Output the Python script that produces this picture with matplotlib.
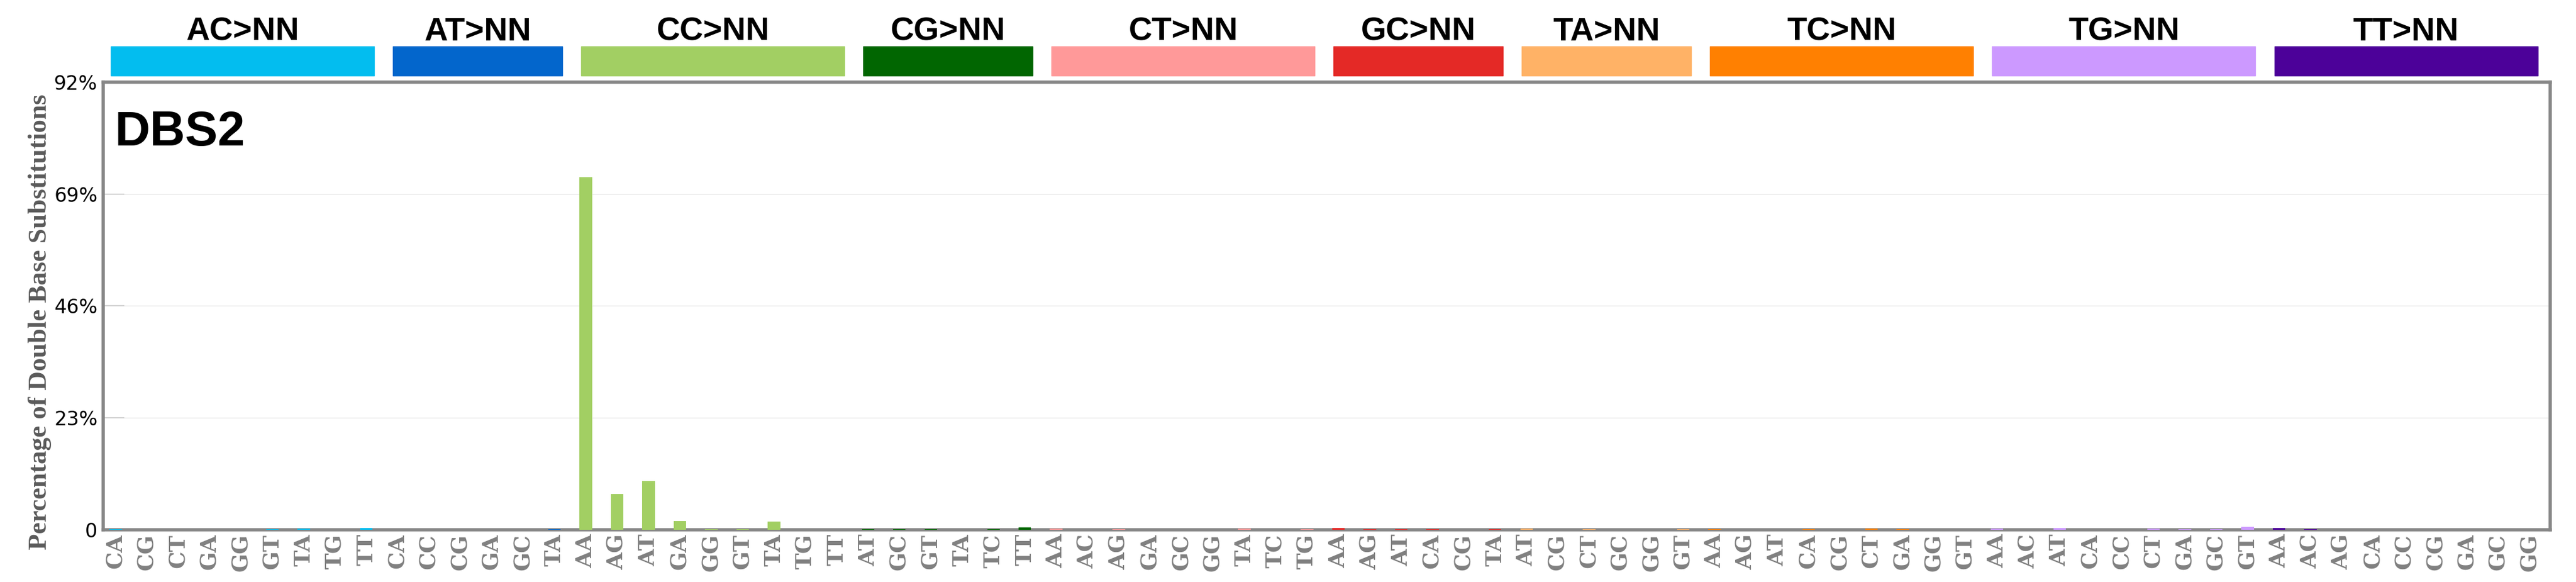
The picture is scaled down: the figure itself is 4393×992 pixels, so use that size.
import matplotlib
matplotlib.use("Agg")
import matplotlib.pyplot as plt
import matplotlib.transforms as mtrans

# DBS78 context, grouped by reference dinucleotide
groups = ["AC>NN", "AT>NN", "CC>NN", "CG>NN", "CT>NN",
          "GC>NN", "TA>NN", "TC>NN", "TG>NN", "TT>NN"]
group_colors = ["#03BDEF", "#0366CC", "#A2CF63", "#016601", "#FF9999",
                "#E42926", "#FFB266", "#FF8001", "#CC99FF", "#4C0199"]

ac_labels = ["CA", "CG", "CT", "GA", "GG", "GT", "TA", "TG", "TT"]
at_labels = ["CA", "CC", "CG", "GA", "GC", "TA"]
cc_labels = ["AA", "AG", "AT", "GA", "GG", "GT", "TA", "TG", "TT"]
cg_labels = ["AT", "GC", "GT", "TA", "TC", "TT"]
ct_labels = ["AA", "AC", "AG", "GA", "GC", "GG", "TA", "TC", "TG"]
gc_labels = ["AA", "AG", "AT", "CA", "CG", "TA"]
ta_labels = ["AT", "CG", "CT", "GC", "GG", "GT"]
tc_labels = ["AA", "AG", "AT", "CA", "CG", "CT", "GA", "GG", "GT"]
tg_labels = ["AA", "AC", "AT", "CA", "CC", "CT", "GA", "GC", "GT"]
tt_labels = ["AA", "AC", "AG", "CA", "CC", "CG", "GA", "GC", "GG"]

# percentages
ac_vals = [0.08, 0, 0, 0, 0, 0.08, 0.2, 0, 0.32]
at_vals = [0, 0, 0, 0, 0, 0.08]
cc_vals = [72.5, 7.3, 10.0, 1.77, 0.08, 0.08, 1.65, 0, 0]
cg_vals = [0.08, 0.08, 0.08, 0, 0.16, 0.52]
ct_vals = [0.28, 0, 0.08, 0, 0, 0, 0.28, 0, 0.08]
gc_vals = [0.4, 0.08, 0.08, 0.08, 0, 0.08]
ta_vals = [0.28, 0, 0.08, 0, 0, 0.08]
tc_vals = [0.08, 0, 0, 0.08, 0, 0.28, 0.08, 0, 0]
tg_vals = [0.28, 0, 0.4, 0, 0, 0.28, 0.16, 0.08, 0.64]
tt_vals = [0.4, 0.08, 0, 0, 0, 0, 0, 0, 0]

all_labels = [ac_labels, at_labels, cc_labels, cg_labels, ct_labels,
              gc_labels, ta_labels, tc_labels, tg_labels, tt_labels]
all_vals = [ac_vals, at_vals, cc_vals, cg_vals, ct_vals,
            gc_vals, ta_vals, tc_vals, tg_vals, tt_vals]

yticks = [0, 23, 46, 69, 92]
ytick_labels = ["0", "23%", "46%", "69%", "92%"]

fig = plt.figure(figsize=(43.93, 9.92), dpi=100)
ax = fig.add_axes([0.0401, 0.0897, 0.9499, 0.7692])

trans = mtrans.blended_transform_factory(ax.transData, ax.transAxes)

xlabels = []
i = 0
for g, labs, vals, col in zip(groups, all_labels, all_vals, group_colors):
    start = i
    for lab, v in zip(labs, vals):
        ax.bar(i, v, width=0.4, color=col, zorder=3)
        xlabels.append(lab)
        i += 1
    end = i - 1
    ax.add_patch(plt.Rectangle((start - 0.15, 1.0144), (end - start) + 0.4, 0.0655,
                               transform=trans, color=col, clip_on=False))
    ax.text((start + end) / 2 + 0.05, 1.0931, g, transform=trans, ha="center",
            va="baseline", fontsize=40, fontweight="bold", family="Liberation Sans")

ax.set_xlim(-0.39, 77.65)
ax.set_ylim(0, 92)

ax.set_xticks(range(len(xlabels)))
ax.set_xticklabels(xlabels, rotation=90, fontsize=27, fontweight="bold",
                   family=["DejaVu Serif", "Liberation Serif"], color="#808080")
ax.tick_params(axis="x", length=0, pad=5)

ax.set_yticks(yticks)
ax.set_yticklabels(ytick_labels, fontsize=24, family="DejaVu Sans")
ax.tick_params(axis="y", direction="in", length=26, width=1.5,
               color="#D3D3D3", pad=7)
ax.yaxis.grid(True, color="#E8E8E8", linewidth=1.0, zorder=0)
ax.set_axisbelow(True)

for s in ax.spines.values():
    s.set_color("#878787")
    s.set_linewidth(4)

ax.set_ylabel("Percentage of Double Base Substitutions", fontsize=32.5,
              fontweight="bold", family="Liberation Serif", color="#5A5A5A")
ax.yaxis.set_label_coords(-0.0211, 0.464)

ax.text(0.0045, 0.8585, "DBS2", transform=ax.transAxes, fontsize=60,
        fontweight="bold", family="Liberation Sans", va="baseline")

fig.savefig("out.png", dpi=100)
